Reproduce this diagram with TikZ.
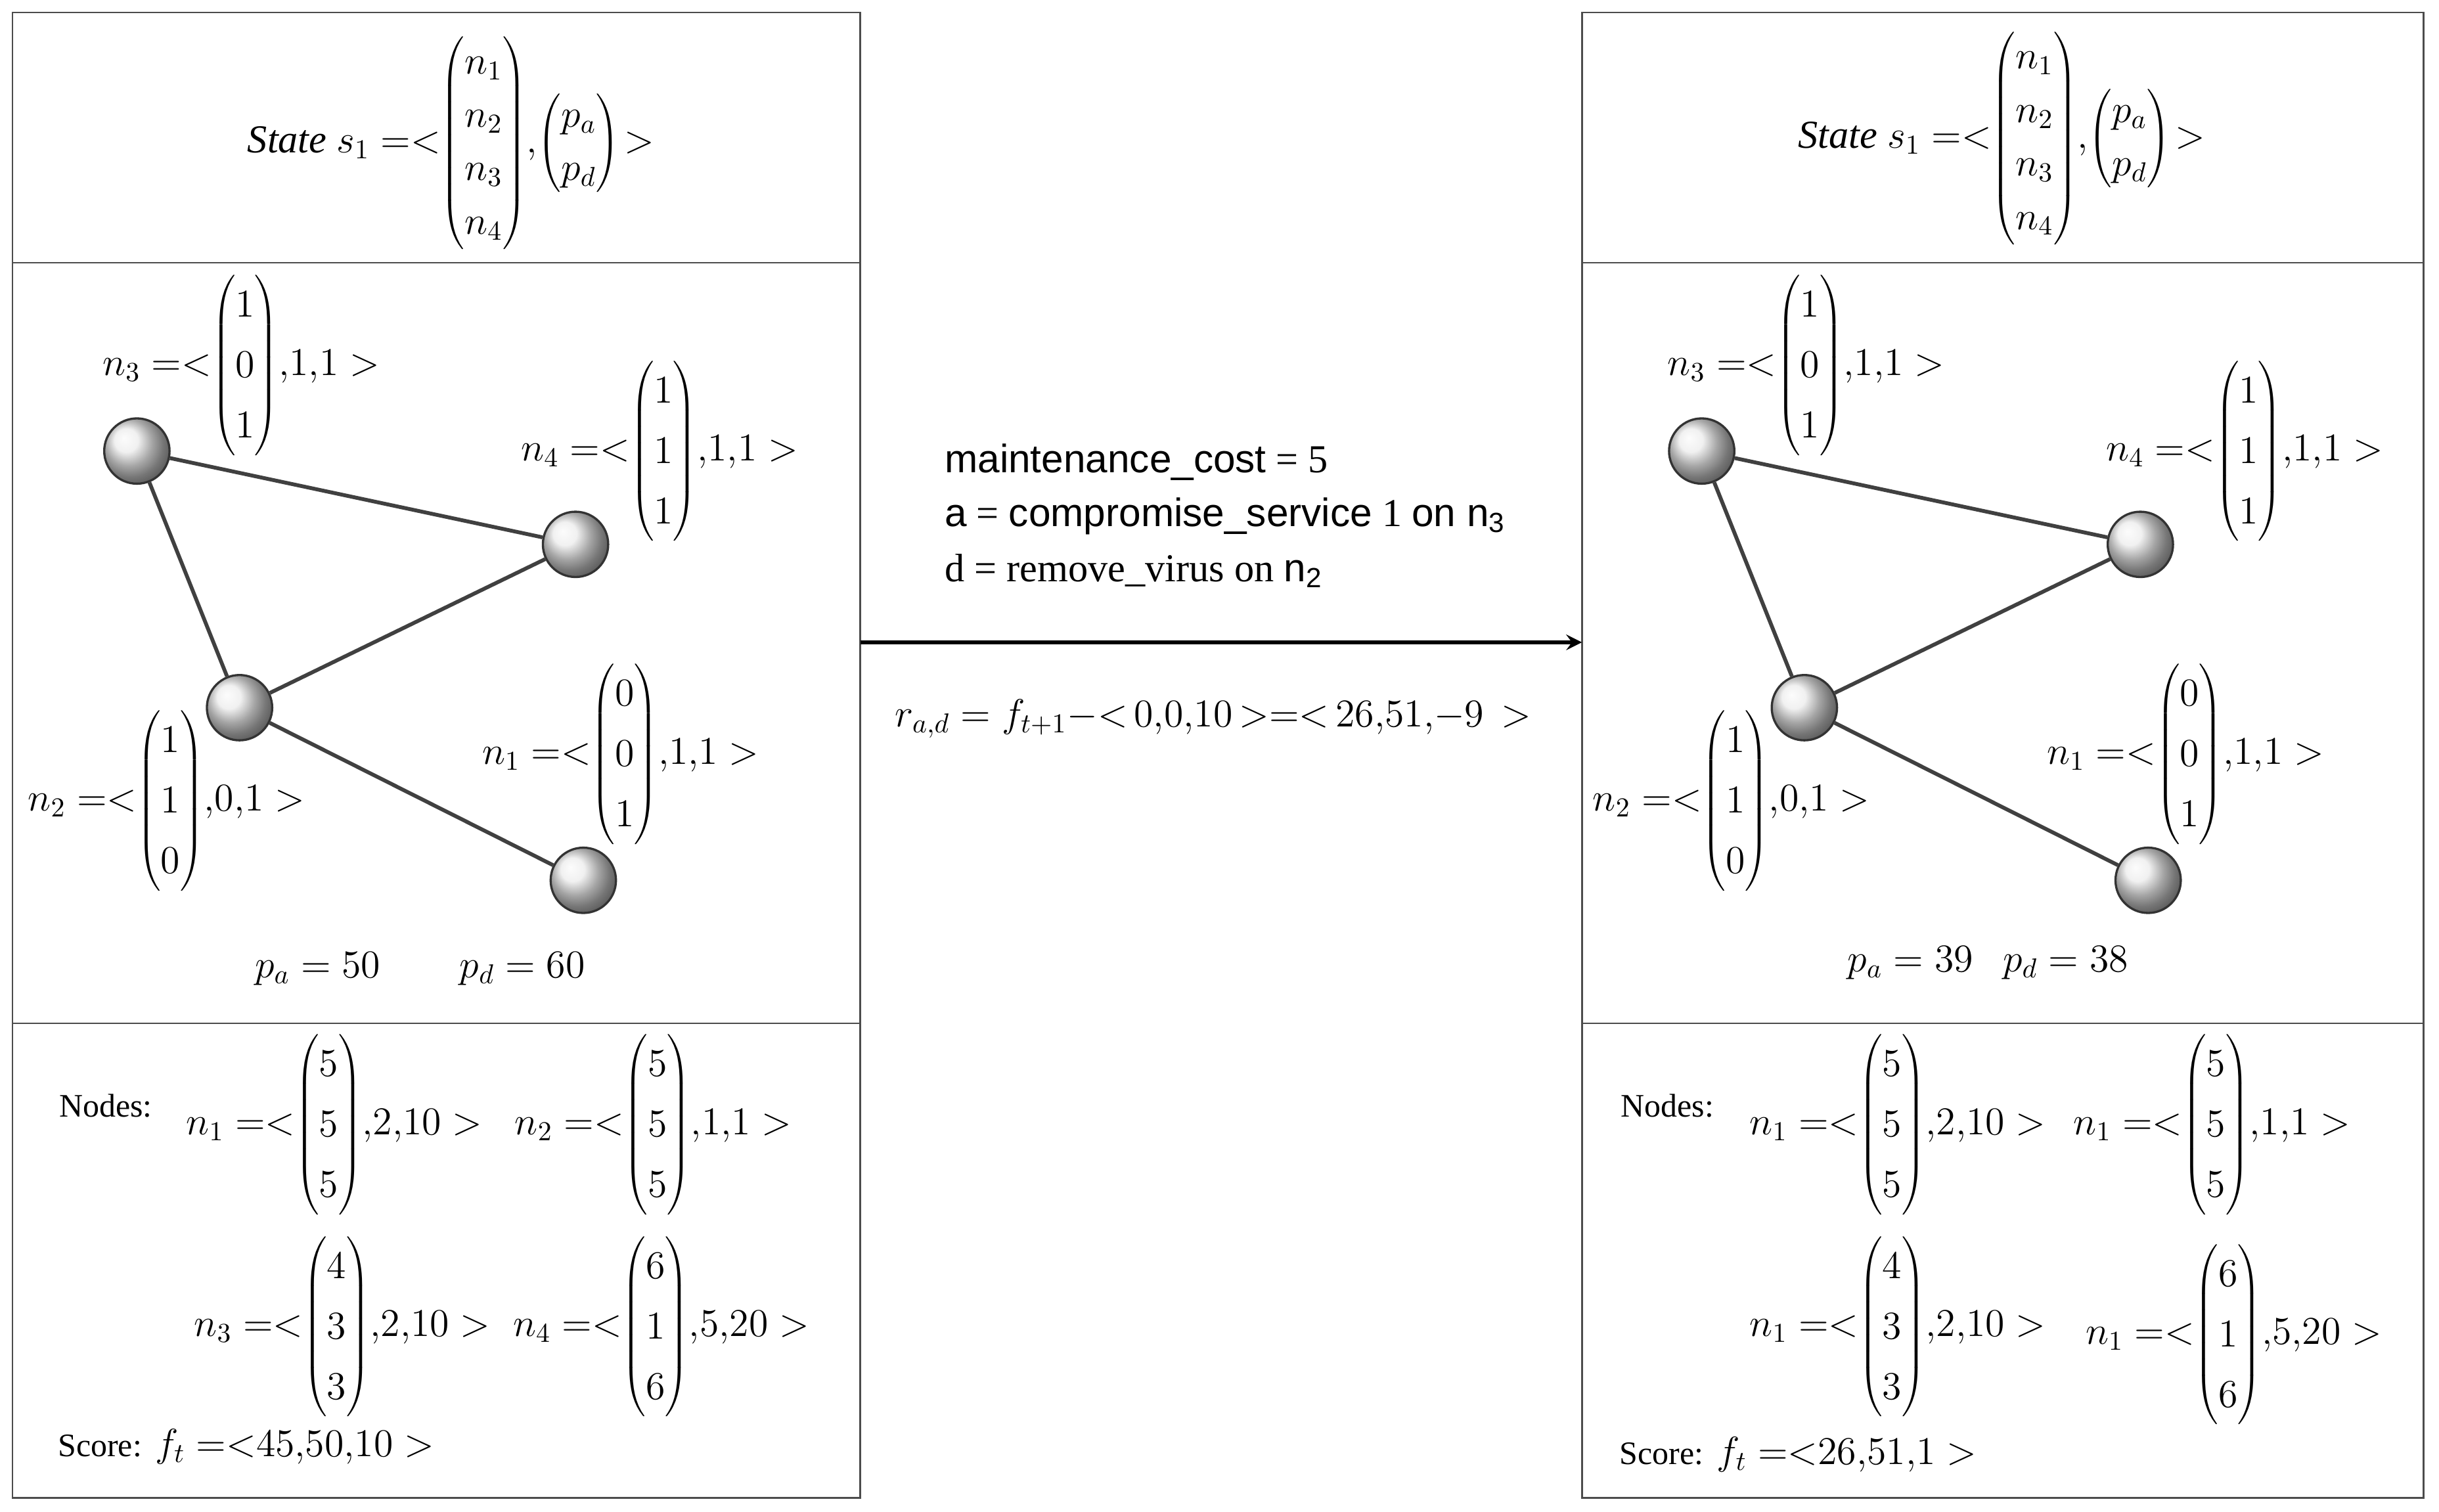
\documentclass[tikz,border=0pt]{standalone}
\usepackage{fontspec}
\setmainfont{Liberation Serif}
\newfontfamily\arialf{Liberation Sans}
\newcommand\cvv[1]{\!\left(\renewcommand\arraystretch{1.3}\begin{array}{@{}c@{}}#1\end{array}\right)\!}
\newcommand\cvq[1]{\!\left(\renewcommand\arraystretch{1.15}\begin{array}{@{}c@{}}#1\end{array}\right)\!}
\newcommand\cvs[1]{\!\left(\renewcommand\arraystretch{1.15}\begin{array}{@{}c@{}}#1\end{array}\right)\!}
\newcommand\eqlt{\;{=}{<}}
\newcommand\cm{{,}}
\begin{document}
\begin{tikzpicture}[x=0.02cm,y=-0.02cm,
  lab/.style={font=\fontsize{14.5}{17}\selectfont, inner sep=0pt},
  small/.style={font=\fontsize{12}{14}\selectfont, inner sep=0pt},
  ball/.style={circle,draw=black!80,thick,minimum size=0.84cm,inner sep=0pt,shading=ball,ball color=white!85!gray},
  edge/.style={line width=1.4pt,draw=black!75},
  frame/.style={draw=black!70,line width=0.6pt}]
\useasboundingbox (0,0) rectangle (1568,972);
\fill[white] (0,0) rectangle (1568,972);
\foreach \ox/\w in {8/545,1017/541}{
  \draw[frame] (\ox,8) rectangle ++(\w,955);
  \draw[frame] (\ox,169) -- ++(\w,0);
  \draw[frame] (\ox,658) -- ++(\w,0);
}
% left panel
\node[lab] (sL) at (290,92) {$\mathit{State}\ s_1\eqlt\cvq{n_1\\n_2\\n_3\\n_4}\cm\cvs{p_a\\p_d}>$};
\node[ball] (a3) at (88,290) {};
\node[ball] (a4) at (370,350) {};
\node[ball] (a2) at (154,455) {};
\node[ball] (a1) at (375,566) {};
\draw[edge] (a3) -- (a4); \draw[edge] (a3) -- (a2); \draw[edge] (a2) -- (a4); \draw[edge] (a2) -- (a1);
\node[lab] (l3) at (155,235) {$n_3\eqlt\cvv{1\\0\\1}\cm1\cm1>$};
\node[lab] (l4) at (424,290) {$n_4\eqlt\cvv{1\\1\\1}\cm1\cm1>$};
\node[lab] (l1) at (399,485) {$n_1\eqlt\cvv{0\\0\\1}\cm1\cm1>$};
\node[lab] (l2) at (107,515) {$n_2\eqlt\cvv{1\\1\\0}\cm0\cm1>$};
\node[lab] (pL) at (270,623) {$p_a = 50\qquad p_d = 60$};
\node[small] (ndL) at (68,711) {Nodes:};
\node[lab] (m1) at (215,723) {$n_1\eqlt\cvv{5\\5\\5}\cm2\cm10>$};
\node[lab] (m2) at (420,723) {$n_2\eqlt\cvv{5\\5\\5}\cm1\cm1>$};
\node[lab] (m3) at (220,853) {$n_3\eqlt\cvv{4\\3\\3}\cm2\cm10>$};
\node[lab] (m4) at (425,853) {$n_4\eqlt\cvv{6\\1\\6}\cm5\cm20>$};
\node[lab,anchor=west] (scL) at (37,930) {{\fontsize{12}{14}\selectfont Score:} $f_t\eqlt45\cm50\cm10>$};
% middle
\node[lab,anchor=west] (t1) at (607,297) {{\arialf maintenance\_cost} = 5};
\node[lab,anchor=west] (t2) at (607,332) {{\arialf a} = {\arialf compromise\_service} 1 {\arialf on n\textsubscript{3}}};
\node[lab,anchor=west] (t3) at (607,367) {d = remove\_virus on {\arialf n\textsubscript{2}}};
\draw[line width=1.5pt,-stealth] (553,413) -- (1017,413);
\node[lab] (r) at (780,462) {$r_{a,d} = f_{t+1}{-}{<}\,0\cm0\cm10\,{>}{=}{<}\,26\cm51\cm{-}9\,>$};
% right panel
\node[lab] (sR) at (1287,89) {$\mathit{State}\ s_1\eqlt\cvq{n_1\\n_2\\n_3\\n_4}\cm\cvs{p_a\\p_d}>$};
\node[ball] (b3) at (1094,290) {};
\node[ball] (b4) at (1376,350) {};
\node[ball] (b2) at (1160,455) {};
\node[ball] (b1) at (1381,566) {};
\draw[edge] (b3) -- (b4); \draw[edge] (b3) -- (b2); \draw[edge] (b2) -- (b4); \draw[edge] (b2) -- (b1);
\node[lab] (k3) at (1161,235) {$n_3\eqlt\cvv{1\\0\\1}\cm1\cm1>$};
\node[lab] (k4) at (1443,290) {$n_4\eqlt\cvv{1\\1\\1}\cm1\cm1>$};
\node[lab] (k1) at (1405,485) {$n_1\eqlt\cvv{0\\0\\1}\cm1\cm1>$};
\node[lab] (k2) at (1113,515) {$n_2\eqlt\cvv{1\\1\\0}\cm0\cm1>$};
\node[lab] (pR) at (1278,619) {$p_a = 39\ \ \ p_d = 38$};
\node[small] (ndR) at (1072,711) {Nodes:};
\node[lab] (q1) at (1220,723) {$n_1\eqlt\cvv{5\\5\\5}\cm2\cm10>$};
\node[lab] (q2) at (1422,723) {$n_1\eqlt\cvv{5\\5\\5}\cm1\cm1>$};
\node[lab] (q3) at (1220,853) {$n_1\eqlt\cvv{4\\3\\3}\cm2\cm10>$};
\node[lab] (q4) at (1436,858) {$n_1\eqlt\cvv{6\\1\\6}\cm5\cm20>$};
\node[lab,anchor=west] (scR) at (1041,935) {{\fontsize{12}{14}\selectfont Score:} $f_t\eqlt26\cm51\cm1>$};
\end{tikzpicture}
\end{document}
